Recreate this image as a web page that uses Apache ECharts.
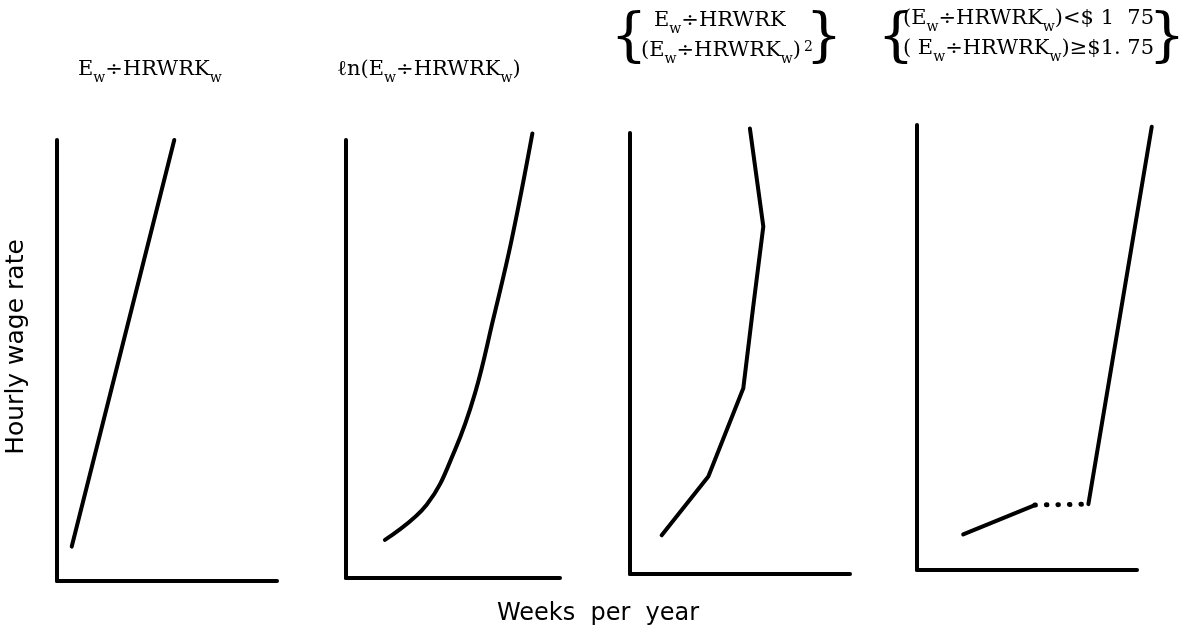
<!DOCTYPE html>
<html>
<head>
<meta charset="utf-8">
<script src="https://cdn.jsdelivr.net/npm/echarts@6/dist/echarts.min.js"></script>
<style>
html,body{margin:0;padding:0;background:#fff;}
#chart{width:1180px;height:636px;}
</style>
</head>
<body>
<div id="chart"></div>
<script>
// ---- data (arbitrary units 0..100 on each panel's axes) ----
const xAxisName = 'Weeks  per  year';
const yAxisName = 'Hourly wage rate';

const p1X = [6.7, 53.3];
const p1Y = [7.8, 100];

const p2X = [18.2, 37.7, 50.9, 60.3, 68.7, 77.4, 87.1];
const p2Y = [8.7, 16.7, 29.2, 42.2, 58.9, 77.2, 101.5];

const p3X = [14.4, 35.6, 51.5, 56.0, 60.6, 54.5];
const p3Y = [8.8, 22.1, 42.1, 60.6, 78.8, 101];

const p4aX = [21.0, 53.6];
const p4aY = [8.0, 14.6];
const p4bX = [53.6, 77.9];
const p4bY = [14.6, 14.8];
const p4cX = [77.9, 106.7];
const p4cY = [14.8, 99.6];

const title1 = ['{n|E}{s|w}{n|÷HRWRK}{s|w}'];
const title2 = ['{n|ℓn(E}{s|w}{n|÷HRWRK}{s|w}{n|)}'];
const title3 = ['{n|E}{s|w}{n|÷HRWRK}', '{n|(E}{s|w}{n|÷HRWRK}{s|w}{n|)}{p|2}'];
const title4 = ['{n|(E}{s|w}{n|÷HRWRK}{s|w}{n|)<$ 1  75}', '{n|( E}{s|w}{n|÷HRWRK}{s|w}{n|)≥$1. 75}'];

// ---- build ----
function pts(xs, ys){ return xs.map((x,i)=>[x, ys[i]]); }

const grids = [
  {left:57,  top:140, width:220, height:441},
  {left:346, top:140, width:214, height:438},
  {left:630, top:133, width:220, height:441},
  {left:917, top:125, width:220, height:445},
  // overlay grid for panel 4 (same scale, wider so the steep segment is not cut)
  {left:917, top:125, width:240, height:445}
];
const xMax = [100, 100, 100, 100, 100 * 240 / 220];

const axLine = {show:true, onZero:false, lineStyle:{color:'#000', width:4, cap:'round'}};
const noLine = {show:false};
const xAxes = grids.map((g,i)=>({gridIndex:i, type:'value', min:0, max:xMax[i],
  axisLine: i < 4 ? axLine : noLine, axisTick:{show:false}, axisLabel:{show:false}, splitLine:{show:false}}));
const yAxes = grids.map((g,i)=>({gridIndex:i, type:'value', min:0, max:100,
  axisLine: i < 4 ? axLine : noLine, axisTick:{show:false}, axisLabel:{show:false}, splitLine:{show:false}}));

function lineSeries(idx, data, smooth, dash){
  return {type:'line', xAxisIndex:idx, yAxisIndex:idx, data:data, smooth:smooth, symbol:'none',
    clip:false, silent:true, animation:false,
    lineStyle:{color:'#000', width: dash ? 5 : 4, cap:'round', join:'round', type: dash ? [0.5, 11] : 'solid'}};
}

const series = [
  lineSeries(0, pts(p1X,p1Y), false),
  lineSeries(1, pts(p2X,p2Y), 0.4),
  lineSeries(2, pts(p3X,p3Y), false),
  lineSeries(4, pts(p4aX,p4aY), false),
  lineSeries(4, pts(p4bX,p4bY), false, true),
  lineSeries(4, pts(p4cX,p4cY), false)
];

const serif = '"DejaVu Serif", "Liberation Serif", serif';
const sans = '"DejaVu Sans", sans-serif';
const rich = {
  n:{fontFamily:serif, fontSize:21, lineHeight:24, verticalAlign:'top', color:'#000'},
  s:{fontFamily:serif, fontSize:14, lineHeight:14, padding:[12,0,0,0], verticalAlign:'top', color:'#000'},
  p:{fontFamily:serif, fontSize:14, lineHeight:14, padding:[0,0,0,3], verticalAlign:'top', color:'#000'}
};

function titleText(x, y, str){
  return {type:'text', x:x, y:y, silent:true,
    style:{text:str, rich:rich, verticalAlign:'middle', align:'left', fill:'#000'}};
}
function brace(x, y, ch){
  return {type:'text', x:x, y:y, silent:true,
    style:{text:ch, font:'58px ' + serif, verticalAlign:'middle', align:'center', fill:'#000'}};
}

const graphic = [
  titleText(78, 71, title1[0]),
  titleText(337, 71, title2[0]),
  brace(629, 40, '{'),
  titleText(654, 22, title3[0]),
  titleText(641, 52, title3[1]),
  brace(824, 40, '}'),
  brace(896, 40, '{'),
  titleText(903, 20, title4[0]),
  titleText(903, 50, title4[1]),
  brace(1167, 40, '}'),
  {type:'text', x:16, y:347, rotation:Math.PI/2, silent:true,
    style:{text:yAxisName, font:'25px ' + sans, align:'center', verticalAlign:'middle', fill:'#000'}},
  {type:'text', x:598, y:614, silent:true,
    style:{text:xAxisName, font:'24px ' + sans, align:'center', verticalAlign:'middle', fill:'#000'}}
];

const chart = echarts.init(document.getElementById('chart'), null, {renderer:'canvas'});
chart.setOption({
  animation:false,
  backgroundColor:'#fff',
  grid:grids,
  xAxis:xAxes,
  yAxis:yAxes,
  series:series,
  graphic:graphic
});
</script>
</body>
</html>
